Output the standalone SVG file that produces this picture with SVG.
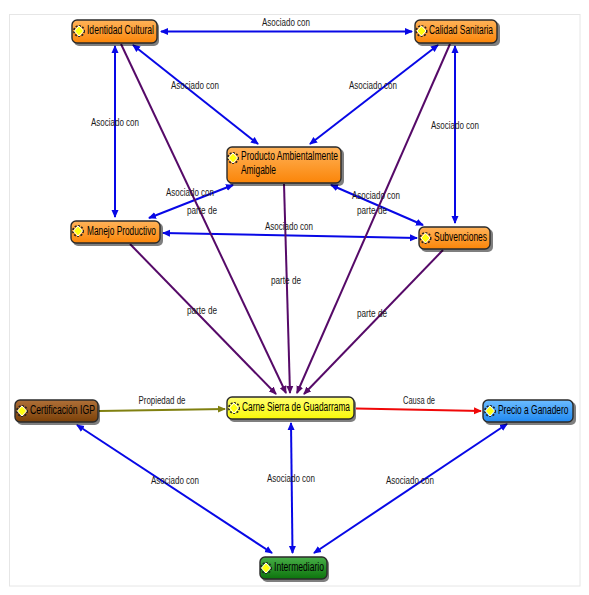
<svg xmlns="http://www.w3.org/2000/svg" width="589" height="595" viewBox="0 0 589 595">
<style>
text{font-family:"Liberation Sans",Arial,sans-serif;fill:#000}
.l{font-size:11.5px;text-anchor:middle;fill:#1a1a1a}
.n{font-size:12px}
.c{fill:none;stroke-width:2}
.b{stroke:#0808e6;marker-start:url(#ab);marker-end:url(#ab)}
.p{stroke:#560a68;marker-end:url(#ap)}
.box{stroke:#2a2a2a;stroke-width:1.4}
.sh{fill:#000;opacity:.5}
.d{fill:#ffff10;stroke:#fff;stroke-width:1}
.r{fill:none;stroke:#222;stroke-width:1.6;stroke-dasharray:2 1.4}
</style>
<defs>
<marker id="ab" viewBox="0 0 8 8" refX="7" refY="4" markerWidth="8" markerHeight="8" markerUnits="userSpaceOnUse" orient="auto-start-reverse"><path d="M0 0.5L8 4L0 7.5z" fill="#0808e6"/></marker>
<marker id="ap" viewBox="0 0 8 8" refX="7" refY="4" markerWidth="8" markerHeight="8" markerUnits="userSpaceOnUse" orient="auto"><path d="M0 0.5L8 4L0 7.5z" fill="#560a68"/></marker>
<marker id="ao" viewBox="0 0 8 8" refX="7" refY="4" markerWidth="8" markerHeight="8" markerUnits="userSpaceOnUse" orient="auto"><path d="M0 0.5L8 4L0 7.5z" fill="#808010"/></marker>
<marker id="ar" viewBox="0 0 8 8" refX="7" refY="4" markerWidth="8" markerHeight="8" markerUnits="userSpaceOnUse" orient="auto"><path d="M0 0.5L8 4L0 7.5z" fill="#f00808"/></marker>
<linearGradient id="go" x1="0" y1="0" x2="0" y2="1"><stop offset="0" stop-color="#ffb35a"/><stop offset="1" stop-color="#fb8508"/></linearGradient>
<linearGradient id="gy" x1="0" y1="0" x2="0" y2="1"><stop offset="0" stop-color="#ffff70"/><stop offset="1" stop-color="#f8f808"/></linearGradient>
<linearGradient id="gm" x1="0" y1="0" x2="0" y2="1"><stop offset="0" stop-color="#b07038"/><stop offset="1" stop-color="#7a4008"/></linearGradient>
<linearGradient id="gb" x1="0" y1="0" x2="0" y2="1"><stop offset="0" stop-color="#6cbcff"/><stop offset="1" stop-color="#2088f0"/></linearGradient>
<linearGradient id="gg" x1="0" y1="0" x2="0" y2="1"><stop offset="0" stop-color="#48ae48"/><stop offset="1" stop-color="#0c740c"/></linearGradient>
<g id="ic"><circle r="5.200" class="r"/><path class="d" d="M0-5L4.500 0L0 5L-4.500 0z"/></g>
</defs>
<rect x="9.500" y="14.500" width="570.500" height="571.500" fill="#fff" stroke="#e6e6e6"/>
<g id="connectors">
<path class="c b" d="M161 31.500H412"/>
<path class="c b" d="M115 46V217"/>
<path class="c b" d="M133 45L258 144"/>
<path class="c b" d="M438 45L310 144"/>
<path class="c b" d="M455 46V223"/>
<path class="c b" d="M149 218L233 185"/>
<path class="c b" d="M331 185L423 225"/>
<path class="c b" d="M163 233L417 238"/>
<path class="c b" d="M77 425L272 553"/>
<path class="c b" d="M291 423L292.500 553"/>
<path class="c b" d="M507 424L314 553"/>
<path class="c p" d="M121 44L286 393"/>
<path class="c p" d="M450 44L297 393"/>
<path class="c p" d="M130 244L276 394"/>
<path class="c p" d="M284 184L290 393"/>
<path class="c p" d="M443 250L304 394"/>
<path class="c" stroke="#808010" marker-end="url(#ao)" d="M99 411L225 409"/>
<path class="c" stroke="#f00808" marker-end="url(#ar)" d="M356 408.500L481 411"/>
</g>
<g id="labels">
<text class="l" x="286" y="26" textLength="48" lengthAdjust="spacingAndGlyphs">Asociado con</text>
<text class="l" x="195" y="89" textLength="48" lengthAdjust="spacingAndGlyphs">Asociado con</text>
<text class="l" x="373" y="89" textLength="48" lengthAdjust="spacingAndGlyphs">Asociado con</text>
<text class="l" x="115" y="126" textLength="48" lengthAdjust="spacingAndGlyphs">Asociado con</text>
<text class="l" x="455" y="129" textLength="48" lengthAdjust="spacingAndGlyphs">Asociado con</text>
<text class="l" x="190" y="196" textLength="48" lengthAdjust="spacingAndGlyphs">Asociado con</text>
<text class="l" x="202" y="214" textLength="30" lengthAdjust="spacingAndGlyphs">parte de</text>
<text class="l" x="376" y="199" textLength="48" lengthAdjust="spacingAndGlyphs">Asociado con</text>
<text class="l" x="372" y="214" textLength="30" lengthAdjust="spacingAndGlyphs">parte de</text>
<text class="l" x="289" y="230" textLength="48" lengthAdjust="spacingAndGlyphs">Asociado con</text>
<text class="l" x="286" y="284" textLength="30" lengthAdjust="spacingAndGlyphs">parte de</text>
<text class="l" x="202" y="314" textLength="30" lengthAdjust="spacingAndGlyphs">parte de</text>
<text class="l" x="372" y="317" textLength="30" lengthAdjust="spacingAndGlyphs">parte de</text>
<text class="l" x="162" y="404" textLength="47" lengthAdjust="spacingAndGlyphs">Propiedad de</text>
<text class="l" x="419" y="404" textLength="32" lengthAdjust="spacingAndGlyphs">Causa de</text>
<text class="l" x="175" y="484" textLength="48" lengthAdjust="spacingAndGlyphs">Asociado con</text>
<text class="l" x="291" y="482" textLength="48" lengthAdjust="spacingAndGlyphs">Asociado con</text>
<text class="l" x="410" y="484" textLength="48" lengthAdjust="spacingAndGlyphs">Asociado con</text>
</g>
<g id="identidad"><rect class="sh" x="74" y="22" width="85" height="24" rx="5"/><rect class="box" x="72" y="20" width="85" height="23" rx="5" fill="url(#go)"/><use href="#ic" x="79" y="31"/><text class="n" x="87" y="34" textLength="67" lengthAdjust="spacingAndGlyphs">Identidad Cultural</text></g>
<g id="calidad"><rect class="sh" x="417" y="22" width="83" height="24" rx="5"/><rect class="box" x="415" y="20" width="82" height="23" rx="5" fill="url(#go)"/><use href="#ic" x="421.500" y="31"/><text class="n" x="429" y="34" textLength="64" lengthAdjust="spacingAndGlyphs">Calidad Sanitaria</text></g>
<g id="producto"><rect class="sh" x="229" y="149" width="115" height="37" rx="5"/><rect class="box" x="227" y="147" width="114" height="36" rx="5" fill="url(#go)"/><use href="#ic" x="233" y="158"/><text class="n" x="241" y="160" textLength="97" lengthAdjust="spacingAndGlyphs">Producto Ambientalmente</text><text class="n" x="241" y="174" textLength="35" lengthAdjust="spacingAndGlyphs">Amigable</text></g>
<g id="manejo"><rect class="sh" x="73" y="223" width="90" height="23" rx="5"/><rect class="box" x="71" y="221" width="89" height="22" rx="5" fill="url(#go)"/><use href="#ic" x="78" y="231"/><text class="n" x="87" y="235" textLength="69" lengthAdjust="spacingAndGlyphs">Manejo Productivo</text></g>
<g id="subvenciones"><rect class="sh" x="421" y="229" width="72" height="23" rx="5"/><rect class="box" x="419" y="227" width="71" height="22" rx="5" fill="url(#go)"/><use href="#ic" x="425.500" y="238"/><text class="n" x="434" y="241" textLength="53" lengthAdjust="spacingAndGlyphs">Subvenciones</text></g>
<g id="certificacion"><rect class="sh" x="17" y="402" width="83" height="23" rx="5"/><rect class="box" x="15" y="400" width="83" height="22" rx="5" fill="url(#gm)"/><use href="#ic" x="22" y="411"/><text class="n" x="30" y="414" textLength="65" lengthAdjust="spacingAndGlyphs">Certificación IGP</text></g>
<g id="carne"><rect class="sh" x="229" y="399" width="127" height="23" rx="5"/><rect class="box" x="227" y="397" width="127" height="22" rx="5" fill="url(#gy)"/><use href="#ic" x="234" y="408"/><text class="n" x="242" y="411" textLength="108" lengthAdjust="spacingAndGlyphs">Carne Sierra de Guadarrama</text></g>
<g id="precio"><rect class="sh" x="485" y="402" width="91" height="23" rx="5"/><rect class="box" x="483" y="400" width="90" height="22" rx="5" fill="url(#gb)"/><use href="#ic" x="490" y="411"/><text class="n" transform="translate(498 414) scale(.7 1)">Precio a Ganadero</text></g>
<g id="intermediario"><rect class="sh" x="262" y="559" width="67" height="23" rx="5"/><rect class="box" x="260" y="557" width="67" height="22" rx="5" fill="url(#gg)"/><use href="#ic" x="266" y="568"/><text class="n" x="274" y="571" textLength="50" lengthAdjust="spacingAndGlyphs">Intermediario</text></g>
</svg>
